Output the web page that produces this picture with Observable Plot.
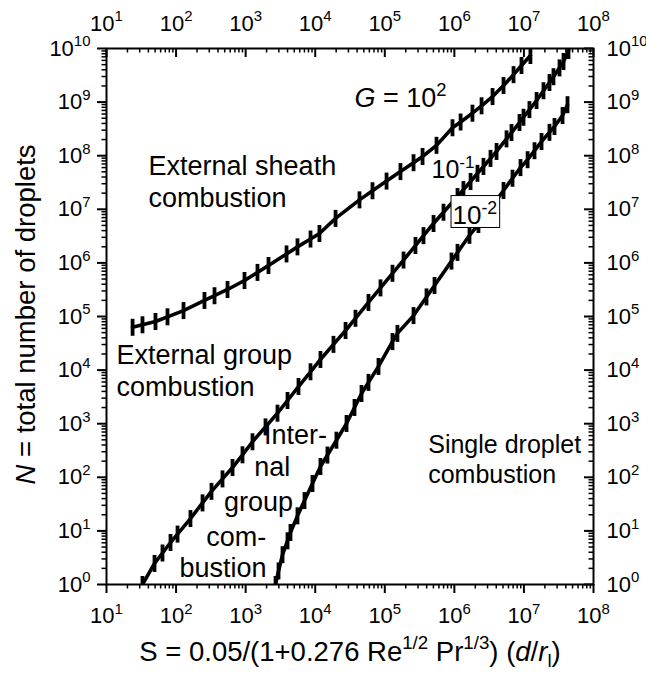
<!DOCTYPE html>
<html>
<head>
<meta charset="utf-8">
<script src="https://cdn.jsdelivr.net/npm/d3@7"></script>
<script src="https://cdn.jsdelivr.net/npm/@observablehq/plot@0.6"></script>
<style>
html, body { margin: 0; padding: 0; background: #fff; }
#chart { width: 646px; height: 680px; }
</style>
</head>
<body>
<div id="chart"></div>
<script>
// ---- data (S, N pairs for each G curve) ----
const G_NAMES = ["1e2", "1e-1", "1e-2"];

const S_G100 = [23.7, 32.9, 50.6, 75.3, 128, 256, 357, 549, 963, 1480, 2130, 3870, 5560, 8560,
  1.15e4, 1.96e4, 4.33e4, 6.66e4, 1.06e5, 1.68e5, 2.59e5, 3.49e5, 5.54e5, 9.40e5, 1.23e6,
  1.82e6, 2.46e6, 3.54e6, 5.09e6, 7.09e6, 9.23e6, 1.24e7];
const N_G100 = [6.29e4, 7.0e4, 8.07e4, 9.87e4, 1.29e5, 1.99e5, 2.44e5, 3.19e5, 4.69e5, 6.65e5,
  8.94e5, 1.47e6, 1.99e6, 2.79e6, 3.54e6, 6.77e6, 1.50e7, 2.22e7, 3.36e7, 5.05e7, 7.40e7,
  9.66e7, 1.56e8, 3.32e8, 4.25e8, 6.21e8, 8.53e8, 1.27e9, 2.04e9, 3.25e9, 4.82e9, 7.40e9];

const S_G01 = [32.9, 49.0, 63.8, 83.2, 105, 161, 240, 323, 465, 648, 901, 1255, 1930, 2870,
  4000, 5750, 8560, 1.19e4, 1.83e4, 2.73e4, 3.79e4, 5.83e4, 8.68e4, 1.29e5, 1.86e5, 2.76e5,
  3.60e5, 5.02e5, 6.98e5, 1.11e6, 1.35e6, 1.71e6, 2.15e6, 2.62e6, 3.31e6, 4.04e6, 5.62e6,
  6.63e6, 8.64e6, 9.86e6, 1.20e7, 1.52e7, 1.91e7, 2.33e7, 2.66e7, 3.25e7, 3.71e7, 4.37e7];
const N_G01 = [1, 2.47, 3.87, 6.08, 8.72, 17.0, 33.3, 54.6, 93.3, 152, 263, 460, 872, 1570,
  2710, 4940, 9300, 1.58e4, 3.02e4, 5.48e4, 9.26e4, 1.83e5, 3.42e5, 6.40e5, 1.13e6, 2.11e6,
  3.22e6, 5.43e6, 8.81e6, 1.73e7, 2.33e7, 3.30e7, 4.69e7, 6.30e7, 8.90e7, 1.20e8, 2.06e8,
  2.70e8, 4.16e8, 5.21e8, 7.25e8, 1.07e9, 1.63e9, 2.32e9, 2.98e9, 4.35e9, 5.72e9, 9.18e9];

const S_G001 = [2690, 2970, 3390, 4000, 4410, 5560, 7020, 9140, 1.19e4, 1.50e4, 2.02e4, 2.82e4,
  3.67e4, 4.63e4, 5.83e4, 8.12e4, 1.29e5, 1.52e5, 2.59e5, 3.98e5, 5.19e5, 9.10e5, 1.11e6,
  1.65e6, 2.22e6, 5.09e6, 6.85e6, 8.93e6, 1.13e7, 1.42e7, 1.79e7, 2.33e7, 2.75e7, 3.59e7, 4.23e7];
const N_G001 = [1, 1.79, 3.60, 6.54, 9.34, 19.1, 36.8, 76.6, 159, 260, 492, 1010, 2010, 3660,
  5900, 1.17e4, 3.40e4, 4.84e4, 1.04e5, 2.32e5, 3.79e5, 1.08e6, 1.57e6, 3.27e6, 5.21e6,
  2.24e7, 3.80e7, 6.00e7, 8.42e7, 1.24e8, 1.84e8, 2.73e8, 3.51e8, 5.62e8, 8.94e8];

// axis ticks
const X_MAJOR = [1e1, 1e2, 1e3, 1e4, 1e5, 1e6, 1e7, 1e8];
const Y_MAJOR = [1e0, 1e1, 1e2, 1e3, 1e4, 1e5, 1e6, 1e7, 1e8, 1e9, 1e10];
const MINOR_MULT = [2, 3, 4, 5, 6, 7, 8, 9];

// annotation texts (markup: ^{} superscript, _{} subscript, ~{} italic)
const EXTERNAL_NOTES = [
  {t: "External sheath\ncombustion", S: 40.2, N: 1.11e7},
  {t: "External group\ncombustion", S: 13.9, N: 3358}
];
const SINGLE_NOTE = [{t: "Single droplet\ncombustion", S: 4.21e5, N: 79}];
const G_NOTES = [
  {t: "~{G} = 10^{2}", S: 3.67e4, N: 8.1e8},
  {t: "10^{-1}", S: 4.69e5, N: 3.76e7}
];
const BOX_NOTE = [{t: "10^{-2}", S: 9.41e5, N: 5.21e6}];
const INTERNAL_NOTES = [
  {t: "Inter-", S: 5208, N: 421.7},
  {t: "nal", S: 2417, N: 108},
  {t: "group", S: 1530, N: 24.0},
  {t: "com-", S: 734, N: 5.34},
  {t: "bustion", S: 473, N: 1.368}
];
const X_TITLE = "S = 0.05/(1+0.276 Re^{1/2} Pr^{1/3}) (~{d}/~{r}_{l})";
const Y_TITLE = "~{N} = total number of droplets";

// ---- build ----
const W = 646, H = 680;
const M = {top: 48, right: 53, bottom: 96, left: 106};
const innerW = W - M.left - M.right;
const innerH = H - M.top - M.bottom;
const FONT = "'Liberation Sans', Arial, Helvetica, sans-serif";

const series = [[G_NAMES[0], S_G100, N_G100], [G_NAMES[1], S_G01, N_G01], [G_NAMES[2], S_G001, N_G001]];
const pts = series.flatMap(([g, S, N]) => S.map((s, i) => ({G: g, S: s, N: N[i]})));

const decadesX = d3.range(1, 8), decadesY = d3.range(0, 10);
const X_MINOR = decadesX.flatMap(e => MINOR_MULT.map(m => m * Math.pow(10, e)));
const Y_MINOR = decadesY.flatMap(e => MINOR_MULT.map(m => m * Math.pow(10, e)));
const fmt = d => `10^{${Math.round(Math.log10(d))}}`;

const vbar = {draw(ctx, size) { const r = Math.sqrt(size / Math.PI); ctx.moveTo(0, -r); ctx.lineTo(0, r); }};
const id = d => d;
const TICK_FS = 22;

const chart = Plot.plot({
  width: W, height: H,
  marginTop: M.top, marginRight: M.right, marginBottom: M.bottom, marginLeft: M.left,
  style: {fontFamily: FONT, fontSize: "22px", background: "#fff", color: "#000", overflow: "visible"},
  x: {type: "log", domain: [1e1, 1e8], label: null, axis: null},
  y: {type: "log", domain: [1e0, 1e10], label: null, axis: null},
  marks: [
    // bottom ticks (outward)
    Plot.ruleX(X_MINOR, {x: id, insetTop: innerH, insetBottom: -4.5, strokeWidth: 1.5}),
    Plot.ruleX(X_MAJOR, {x: id, insetTop: innerH, insetBottom: -9, strokeWidth: 2}),
    // top ticks (inward)
    Plot.ruleX(X_MINOR, {x: id, insetBottom: innerH - 4.5, strokeWidth: 1.5}),
    Plot.ruleX(X_MAJOR, {x: id, insetBottom: innerH - 9, strokeWidth: 2}),
    // left ticks (outward)
    Plot.ruleY(Y_MINOR, {y: id, insetRight: innerW, insetLeft: -4.5, strokeWidth: 1.5}),
    Plot.ruleY(Y_MAJOR, {y: id, insetRight: innerW, insetLeft: -9, strokeWidth: 2}),
    // right ticks (inward)
    Plot.ruleY(Y_MINOR, {y: id, insetLeft: innerW - 4.5, strokeWidth: 1.5}),
    Plot.ruleY(Y_MAJOR, {y: id, insetLeft: innerW - 9, strokeWidth: 2}),
    // tick labels on all four sides
    Plot.axisX(X_MAJOR, {anchor: "bottom", tickSize: 0, tickPadding: 23, tickFormat: fmt, fontSize: TICK_FS, label: null}),
    Plot.axisX(X_MAJOR, {anchor: "top", tickSize: 0, tickPadding: 18, tickFormat: fmt, fontSize: TICK_FS, label: null}),
    Plot.axisY(Y_MAJOR, {anchor: "left", tickSize: 0, tickPadding: 16, tickFormat: fmt, fontSize: TICK_FS, label: null}),
    Plot.axisY(Y_MAJOR, {anchor: "right", tickSize: 0, tickPadding: 13, tickFormat: fmt, fontSize: TICK_FS, label: null}),
    Plot.frame({strokeWidth: 2}),
    // G labels
    Plot.text(G_NOTES.slice(0, 1), {x: "S", y: "N", text: "t", textAnchor: "start", lineAnchor: "bottom", fontSize: 27}),
    Plot.text(G_NOTES.slice(1), {x: "S", y: "N", text: "t", textAnchor: "start", lineAnchor: "bottom", fontSize: 25}),
    // curves
    Plot.line(pts, {x: "S", y: "N", z: "G", stroke: "#000", strokeWidth: 3.6, clip: true}),
    Plot.dot(pts, {x: "S", y: "N", symbol: vbar, r: 8.5, stroke: "#000", strokeWidth: 3.8, fill: "none", clip: true}),
    // region labels
    Plot.text(EXTERNAL_NOTES, {x: "S", y: "N", text: "t", textAnchor: "start", lineAnchor: "bottom", fontSize: 27, lineHeight: 1.175}),
    Plot.text(SINGLE_NOTE, {x: "S", y: "N", text: "t", textAnchor: "start", lineAnchor: "bottom", fontSize: 25, lineHeight: 1.2}),
    Plot.text(INTERNAL_NOTES, {x: "S", y: "N", text: "t", textAnchor: "middle", lineAnchor: "bottom", fontSize: 27}),
    Plot.text(BOX_NOTE, {x: "S", y: "N", text: "t", textAnchor: "start", lineAnchor: "bottom", fontSize: 26}),
    // axis titles
    Plot.text([Y_TITLE], {text: id, frameAnchor: "left", dx: -80, dy: -2, rotate: -90, textAnchor: "middle", lineAnchor: "middle", fontSize: 27.5}),
    Plot.text([X_TITLE], {text: id, frameAnchor: "bottom", dx: 0, dy: 76, textAnchor: "middle", lineAnchor: "bottom", fontSize: 27.5})
  ]
});

document.getElementById("chart").append(chart);

// ---- rich text: superscripts, subscripts, italics ----
const NS = "http://www.w3.org/2000/svg";
function richify(root) {
  const re = /([\^_~])\{([^}]*)\}/g;
  root.querySelectorAll("text").forEach(t => {
    const els = t.querySelector("tspan") ? Array.from(t.querySelectorAll("tspan")) : [t];
    for (const el of els) {
      const s = el.textContent;
      if (!/[\^_~]\{/.test(s)) continue;
      const fs = parseFloat(getComputedStyle(el).fontSize) || 22;
      el.textContent = "";
      t.style.whiteSpace = "pre";
      let cur = 0, last = 0, m;
      const push = (txt, kind) => {
        if (!txt) return;
        const sp = document.createElementNS(NS, "tspan");
        let target = 0;
        if (kind === "^") { target = -0.42 * fs; sp.setAttribute("font-size", (0.68 * fs) + "px"); }
        else if (kind === "_") { target = 0.22 * fs; sp.setAttribute("font-size", (0.68 * fs) + "px"); }
        else if (kind === "~") sp.setAttribute("font-style", "italic");
        if (target !== cur) { sp.setAttribute("dy", target - cur); cur = target; }
        sp.textContent = txt;
        el.appendChild(sp);
      };
      re.lastIndex = 0;
      while ((m = re.exec(s))) { push(s.slice(last, m.index), ""); push(m[2], m[1]); last = re.lastIndex; }
      push(s.slice(last), "");
    }
  });
}
richify(chart);

// boxed label
for (const t of chart.querySelectorAll("text")) {
  if (t.textContent === "10-2") {
    const bb = t.getBBox();
    const r = document.createElementNS(NS, "rect");
    r.setAttribute("x", bb.x - 1.5);
    r.setAttribute("y", bb.y - 2);
    r.setAttribute("width", bb.width + 4);
    r.setAttribute("height", bb.height - 1);
    r.setAttribute("fill", "#fff");
    r.setAttribute("stroke", "#000");
    r.setAttribute("stroke-width", 1);
    const tr = t.getAttribute("transform");
    if (tr) r.setAttribute("transform", tr);
    t.parentNode.insertBefore(r, t);
  }
}
</script>
</body>
</html>
